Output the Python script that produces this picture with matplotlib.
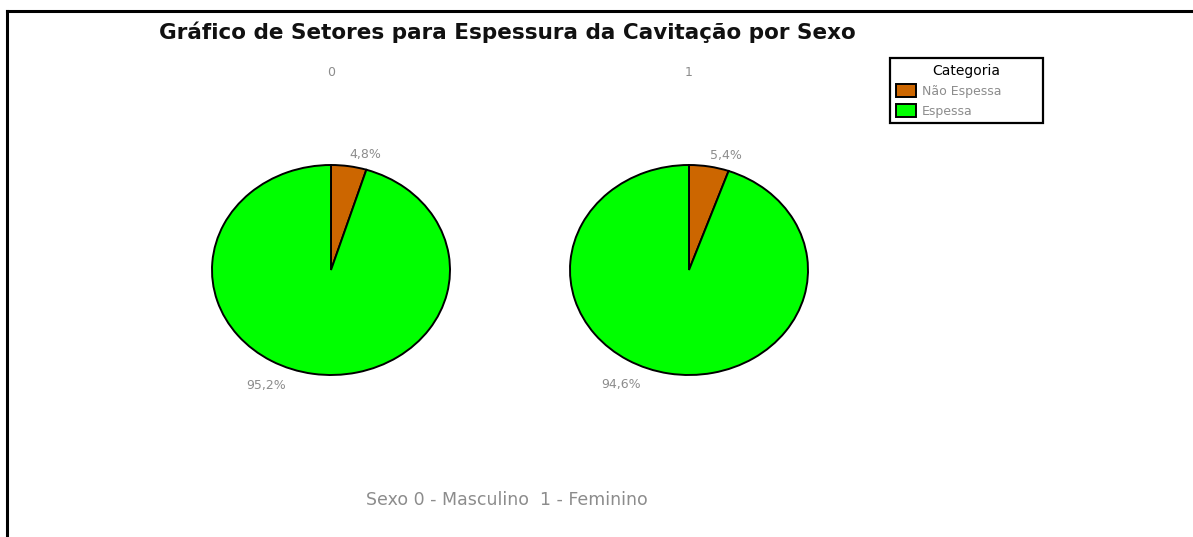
import matplotlib.pyplot as plt
from matplotlib.lines import Line2D

# dados
categorias = ['Não Espessa', 'Espessa']
grupos = ['0', '1']
valores = {
    '0': [4.8, 95.2],
    '1': [5.4, 94.6],
}
cores = ['#cc6600', '#00ff00']

cinza = '#8c8c8c'

fig = plt.figure(figsize=(11.93, 5.37), dpi=100)
W, H = 1193, 537

# posição (pixels) do canto inferior esquerdo de cada pizza
lados = [212, 570]
pw, ph = 238, 210
base = H - 375

# deslocamento horizontal dos rótulos (unidades do eixo)
desloc = [0.12, -0.38]

for g, x0 in zip(grupos, lados):
    ax = fig.add_axes([x0 / W, base / H, pw / W, ph / H])
    wedges, textos = ax.pie(valores[g], colors=cores, startangle=90, counterclock=False,
                            labels=[('%.1f%%' % v).replace('.', ',') for v in valores[g]],
                            labeldistance=1.11,
                            wedgeprops=dict(edgecolor='black', linewidth=1.4),
                            textprops=dict(color=cinza, fontsize=9))
    for t, d in zip(textos, desloc):
        x, y = t.get_position()
        t.set_position((x + d, y))
        t.set_ha('center')
        t.set_va('center')
    ax.set_aspect('auto')
    ax.set_xlim(-1, 1)
    ax.set_ylim(-1, 1)
    ax.set_title(g, color=cinza, fontsize=9, pad=64)

fig.text(507 / W, 1 - 32 / H, 'Gráfico de Setores para Espessura da Cavitação por Sexo',
         ha='center', va='center', fontsize=15.5, fontweight='bold', color='#111111')

fig.text(507 / W, 1 - 500 / H, 'Sexo 0 - Masculino  1 - Feminino',
         ha='center', va='center', fontsize=12.5, color=cinza)

handles = [plt.Rectangle((0, 0), 1, 1, facecolor=c, edgecolor='black', linewidth=1.4) for c in cores]
leg = fig.legend(handles, categorias, title='Categoria', loc='upper left',
                 bbox_to_anchor=(890 / W, 1 - 58 / H - 0.001, 153 / W, 0.001), mode='expand',
                 fancybox=False, framealpha=1,
                 fontsize=9, title_fontsize=10, handlelength=1.6, handleheight=1.25,
                 handletextpad=0.5, borderpad=0.45, borderaxespad=0,
                 labelspacing=0.5, labelcolor=cinza)
leg.get_frame().set_edgecolor('black')
leg.get_frame().set_linewidth(1.6)

# moldura
fig.add_artist(Line2D([7 / W, 1], [1 - 11 / H, 1 - 11 / H], color='black', linewidth=2.2))
fig.add_artist(Line2D([7 / W, 7 / W], [0, 1 - 11 / H], color='black', linewidth=2.2))

fig.savefig('out.png', dpi=100, facecolor='white')
